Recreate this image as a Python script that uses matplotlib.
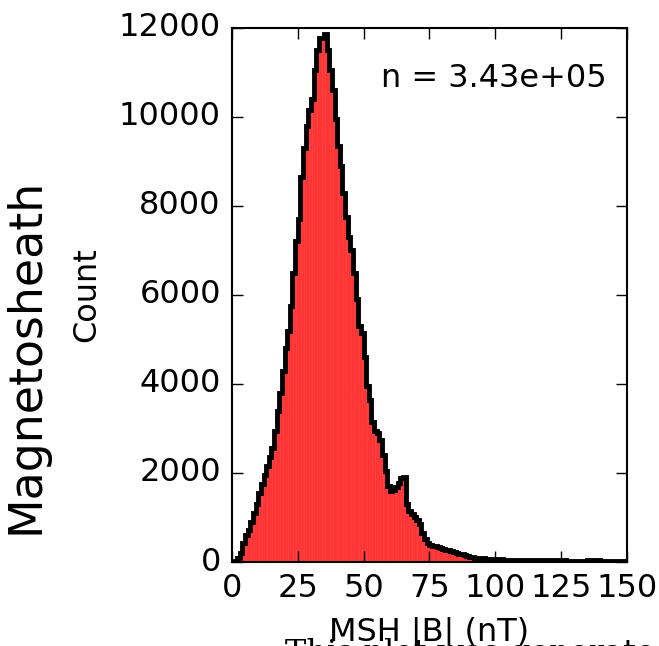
import numpy as np
import matplotlib
matplotlib.use('Agg')
import matplotlib.pyplot as plt

plt.style.use('classic')

# 1 nT bins from 0 to 150, counts
bin_edges = np.arange(0, 151, 1)
counts = [
    0, 20, 80, 200, 420, 600, 720, 900, 1100, 1300,
    1550, 1750, 1950, 2150, 2350, 2550, 2950, 3400, 3800, 4300,
    4800, 5200, 5750, 6500, 7200, 7700, 8650, 9300, 9800, 10150,
    10400, 11050, 11500, 11770, 11780, 11850, 11500, 11050, 10600, 9950,
    9350, 8900, 8300, 7750, 7300, 7000, 6500, 5900, 5300, 5150,
    4600, 3950, 3650, 3150, 2950, 2900, 2750, 2400, 2050, 1700,
    1600, 1620, 1680, 1780, 1880, 1900, 1300, 1150, 1080, 1000,
    950, 850, 650, 520, 420, 390, 370, 355, 340, 320,
    300, 280, 260, 240, 220, 200, 185, 170, 150, 135,
    120, 110, 100, 95, 90, 82, 78, 75, 70, 66,
    62, 60, 58, 55, 52, 50, 48, 47, 45, 44,
    43, 42, 40, 41, 39, 40, 42, 44, 46, 45,
    43, 40, 38, 37, 36, 35, 36, 34, 33, 32,
    33, 31, 30, 32, 34, 36, 38, 40, 37, 35,
    33, 31, 30, 29, 28, 28, 27, 26, 25, 24,
]
n_total = 3.43e5

fig = plt.figure(figsize=(6.59, 6.46), dpi=100, facecolor='white')
ax = fig.add_axes([0.352, 0.130, 0.599, 0.827])

ax.bar(bin_edges[:-1], counts, width=1, align='edge', color='r', alpha=0.75,
       edgecolor='r', linewidth=0.15)
ax.stairs(counts, bin_edges, color='k', linewidth=3.5)

ax.set_xlim(0, 150)
ax.set_ylim(0, 12000)
ax.set_xticks([0, 25, 50, 75, 100, 125, 150])
ax.set_yticks([0, 2000, 4000, 6000, 8000, 10000, 12000])
ax.tick_params(labelsize=23, length=8, width=1, pad=8, direction='in',
               top=True, right=True)
for s in ax.spines.values():
    s.set_linewidth(1.5)

ax.set_xlabel('MSH |B| (nT)', fontsize=23, labelpad=9)
ax.set_ylabel('Count', fontsize=23, labelpad=12)
ax.text(0.95, 0.905, 'n = %.2e' % n_total, transform=ax.transAxes,
        ha='right', va='center', fontsize=23)

fig.text(0.040, 0.449, 'Magnetosheath', rotation=90, fontsize=33,
         ha='center', va='center')
fig.text(0.432, 0.012, 'This plot was generated by', family='serif',
         fontsize=23, ha='left', va='top')

fig.savefig('out.png', dpi=100, facecolor='white')
